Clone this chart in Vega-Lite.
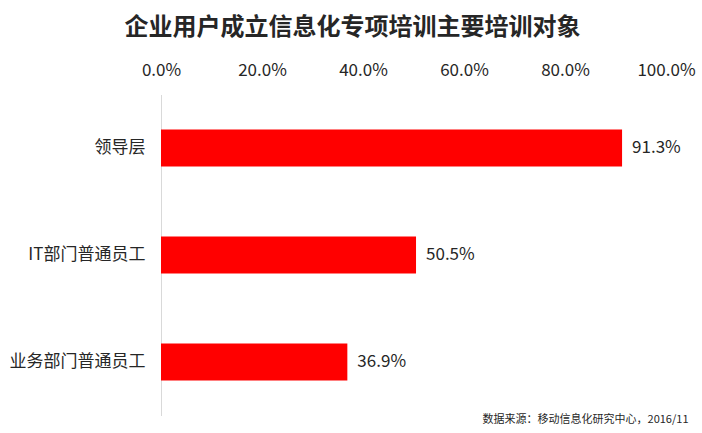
{
  "$schema": "https://vega.github.io/schema/vega-lite/v6.json",
  "width": 505,
  "height": 321,
  "autosize": "none",
  "padding": {"left": 161, "top": 94.5, "right": 36, "bottom": 17.5},
  "title": {
    "text": "企业用户成立信息化专项培训主要培训对象",
    "fontSize": 24,
    "fontWeight": "bold",
    "color": "#262626",
    "font": "Noto Sans CJK SC",
    "anchor": "middle",
    "dx": -61,
    "offset": 22
  },
  "config": {
    "view": {"stroke": null},
    "font": "Noto Sans CJK SC",
    "axis": {"labelFont": "Noto Sans CJK SC", "labelColor": "#262626"}
  },
  "data": {
    "values": [
      {"group": "领导层", "share": 0.913},
      {"group": "IT部门普通员工", "share": 0.505},
      {"group": "业务部门普通员工", "share": 0.369}
    ]
  },
  "encoding": {
    "y": {
      "field": "group",
      "type": "nominal",
      "sort": null,
      "title": null,
      "scale": {"paddingInner": 0.654, "paddingOuter": 0.327},
      "axis": {
        "ticks": false,
        "domainColor": "#d9d9d9",
        "labelFontSize": 17,
        "labelPadding": 16
      }
    }
  },
  "layer": [
    {
      "mark": {"type": "bar", "color": "#ff0000"},
      "encoding": {
        "x": {
          "field": "share",
          "type": "quantitative",
          "scale": {"domain": [0, 1]},
          "title": null,
          "axis": {
            "orient": "top",
            "format": ".1%",
            "values": [0, 0.2, 0.4, 0.6, 0.8, 1],
            "grid": false,
            "ticks": false,
            "domain": false,
            "labelFlush": false,
            "labelAlign": "center",
            "labelFontSize": 17,
            "labelPadding": 15
          }
        }
      }
    },
    {
      "mark": {"type": "text", "align": "left", "dx": 10, "fontSize": 17, "color": "#262626"},
      "encoding": {
        "x": {
          "field": "share",
          "type": "quantitative",
          "scale": {"domain": [0, 1]},
          "title": "数据来源：移动信息化研究中心，2016/11",
          "axis": {
            "orient": "bottom",
            "labels": false,
            "ticks": false,
            "domain": false,
            "grid": false,
            "titleFontSize": 11,
            "titleFontWeight": "normal",
            "titleColor": "#262626",
            "titleAnchor": "end",
            "titleAlign": "right",
            "titleX": 527,
            "titleY": 4,
            "titleBaseline": "middle"
          }
        },
        "text": {"field": "share", "type": "quantitative", "format": ".1%"}
      }
    }
  ],
  "resolve": {"axis": {"x": "independent"}}
}
